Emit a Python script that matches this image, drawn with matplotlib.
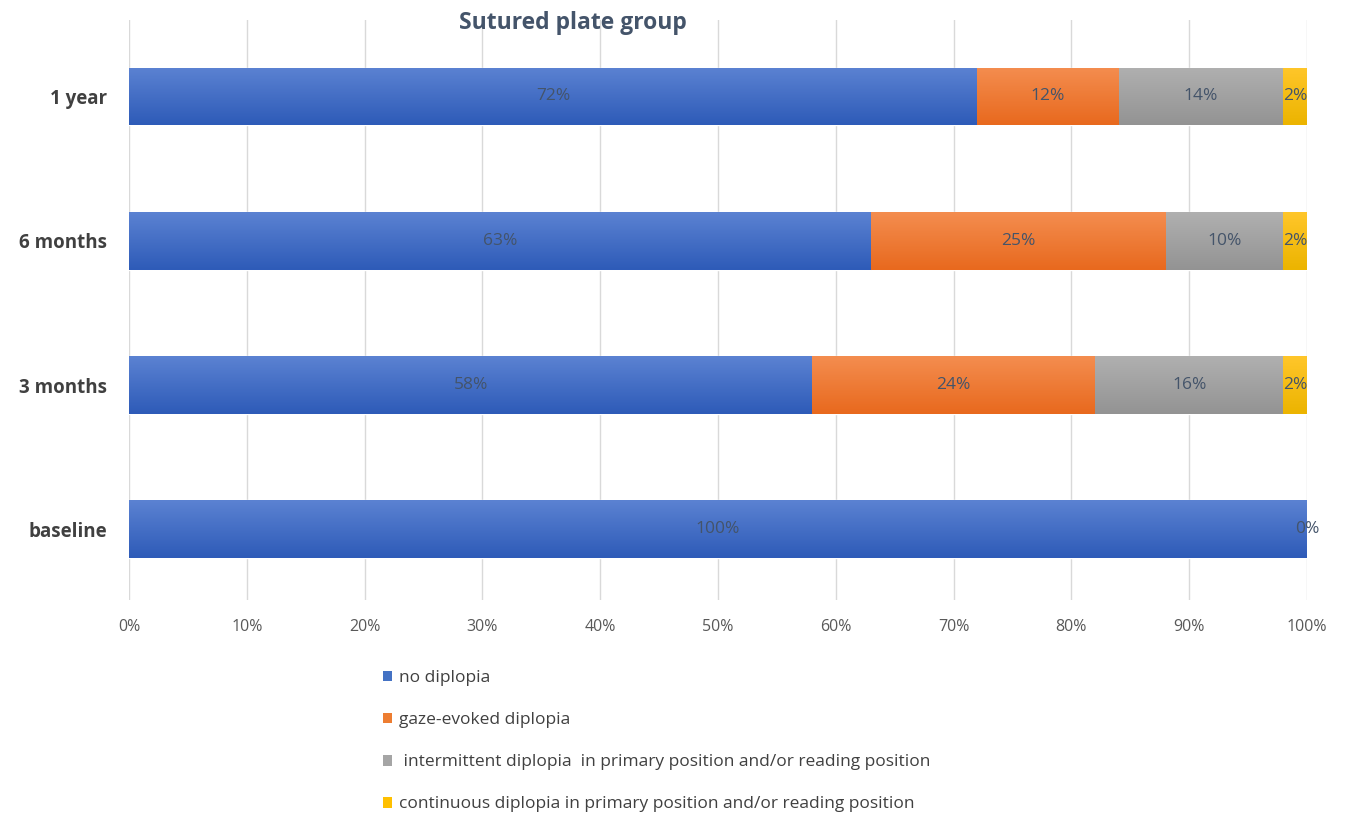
import numpy as np
import matplotlib.pyplot as plt
from matplotlib.colors import LinearSegmentedColormap
from matplotlib.patches import Patch

# data
periods = ['baseline', '3 months', '6 months', '1 year']
no_diplopia = [100, 58, 63, 72]
gaze_evoked = [0, 24, 25, 12]
intermittent = [0, 16, 10, 14]
continuous = [0, 2, 2, 2]

series_names = ['no diplopia',
                'gaze-evoked diplopia',
                ' intermittent diplopia  in primary position and/or reading position',
                'continuous diplopia in primary position and/or reading position']
series_vals = [no_diplopia, gaze_evoked, intermittent, continuous]
# (top, bottom) colours of the vertical gradient
grad = [('#5b82d2', '#2e5bb8'),
        ('#f48d4f', '#e8691e'),
        ('#b0b0b0', '#939393'),
        ('#ffc62a', '#ecb400')]
flat = ['#4472c4', '#ed7d31', '#a5a5a5', '#ffc000']

plt.rcParams['font.family'] = ['Open Sans', 'DejaVu Sans']

fig = plt.figure(figsize=(13.47, 8.15), dpi=100)
ax = fig.add_axes([0.0958, 0.2638, 0.8745, 0.7117])

y = np.arange(len(periods))
left = np.zeros(len(periods))
grad_arr = np.linspace(0, 1, 64).reshape(-1, 1)
seen = set()
for name, vals, (c1, c2) in zip(series_names, series_vals, grad):
    vals = np.array(vals, dtype=float)
    bars = ax.barh(y, vals, left=left, height=0.4, color=c1,
                   edgecolor='white', linewidth=1.0, zorder=2)
    cmap = LinearSegmentedColormap.from_list('g', [c1, c2])
    for b in bars:
        if b.get_width() <= 0:
            continue
        x0, y0 = b.get_x(), b.get_y()
        im = ax.imshow(grad_arr, cmap=cmap, aspect='auto', origin='upper',
                       extent=[x0, x0 + b.get_width(), y0, y0 + b.get_height()],
                       zorder=2.5, interpolation='bicubic')
        im.set_clip_path(b)
    for i, v in enumerate(vals):
        xc = left[i] + v / 2
        key = (round(xc, 3), i)
        if key in seen:
            continue
        seen.add(key)
        ax.text(xc, y[i], f'{v:.0f}%', ha='center', va='center',
                fontsize=12.5, color='#44546a', zorder=4)
    left += vals

ax.set_xlim(0, 100)
ax.set_ylim(-0.49, 3.53)
ax.set_xticks(np.arange(0, 101, 10))
ax.set_xticklabels([f'{t}%' for t in range(0, 101, 10)])
ax.set_yticks(y)
ax.set_yticklabels(periods, fontweight='bold', fontsize=13.5, color='#404040')
ax.tick_params(axis='x', length=0, labelsize=11.5, labelcolor='#595959', pad=14)
ax.tick_params(axis='y', length=0, pad=16)
ax.grid(axis='x', color='#d9d9d9', linewidth=1, zorder=0)
ax.set_axisbelow(True)
for s in ax.spines.values():
    s.set_visible(False)

fig.text(0.425, 0.972, 'Sutured plate group', ha='center', va='center',
         fontsize=16.5, fontweight='bold', color='#44546a')

handles = [Patch(facecolor=c, edgecolor='none') for c in flat]
fig.legend(handles, series_names, loc='upper left',
           bbox_to_anchor=(0.279, 0.186), frameon=False,
           fontsize=12.5, labelcolor='#404040', handlelength=0.55,
           handleheight=0.55, handletextpad=0.4, labelspacing=1.5,
           borderaxespad=0)

fig.savefig('out.png', dpi=100)
